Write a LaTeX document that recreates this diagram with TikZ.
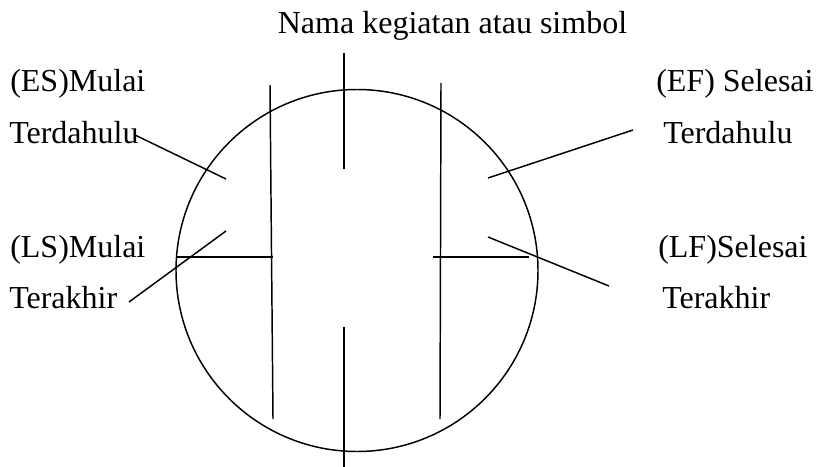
\documentclass[tikz,border=0pt]{standalone}
\usepackage{fontspec}
\setmainfont{Liberation Serif}
\usetikzlibrary{positioning}
\tikzset{
  labeltext/.style={
    anchor=base west, inner sep=0pt, font=\fontsize{24}{28}\selectfont
  },
  eventcircle/.style={
    draw, circle, line width=1.1pt, inner sep=0pt, minimum size=271.5pt
  },
  divline/.style={line width=1.1pt},
  leaderline/.style={line width=1.1pt},
}

\begin{document}
\begin{tikzpicture}[x=0.75pt, y=-0.75pt]
  \useasboundingbox (0,0) rectangle (817,467);

  % ---- EVENT CIRCLE ----
  \node[eventcircle] (keg) at (357,270.5) {};

  % Title
  \node[labeltext, anchor=base] (nama) at (452.5,34)
    {Nama kegiatan atau simbol};

  % ---- LEFT LABELS ----
  \node[labeltext] (esa) at (10,92) {(ES)Mulai};
  \node[labeltext] (esb) at (9,143) {Terdahulu};
  \node[labeltext] (lsa) at (10,257) {(LS)Mulai};
  \node[labeltext] (lsb) at (9,308) {Terakhir};

  % ---- RIGHT LABELS ----
  \node[labeltext] (efa) at (656,92) {(EF) Selesai};
  \node[labeltext] (efb) at (663,143) {Terdahulu};
  \node[labeltext] (lfa) at (658,257) {(LF)Selesai};
  \node[labeltext] (lfb) at (662,308) {Terakhir};

  % Division lines
  \coordinate (midtopA) at (344,53);
  \coordinate (midtopB) at (344,169);
  \coordinate (midbotA) at (344,327);
  \coordinate (midbotB) at (344,467);
  \coordinate (leftvA) at (270,85);
  \coordinate (leftvB) at (273,419);
  \coordinate (rightvA) at (441,83);
  \coordinate (rightvB) at (440,419);
  \coordinate (lefthA) at (177,257);
  \coordinate (lefthB) at (273,257);
  \coordinate (righthA) at (433,257);
  \coordinate (righthB) at (529,257);

  \draw[divline] (midtopA) -- (midtopB);
  \draw[divline] (midbotA) -- (midbotB);
  \draw[divline] (leftvA) -- (leftvB);
  \draw[divline] (rightvA) -- (rightvB);
  \draw[divline] (lefthA) -- (lefthB);
  \draw[divline] (righthA) -- (righthB);

  % Leader lines
  \coordinate (esout) at (135,135);
  \coordinate (esin) at (226,179);
  \coordinate (lsout) at (129,302);
  \coordinate (lsin) at (226,231);
  \coordinate (efout) at (633,130);
  \coordinate (efin) at (488,178);
  \coordinate (lfout) at (609,286);
  \coordinate (lfin) at (488,237);

  \draw[leaderline] (esout) -- (esin);
  \draw[leaderline] (lsout) -- (lsin);
  \draw[leaderline] (efout) -- (efin);
  \draw[leaderline] (lfout) -- (lfin);
\end{tikzpicture}
\end{document}
